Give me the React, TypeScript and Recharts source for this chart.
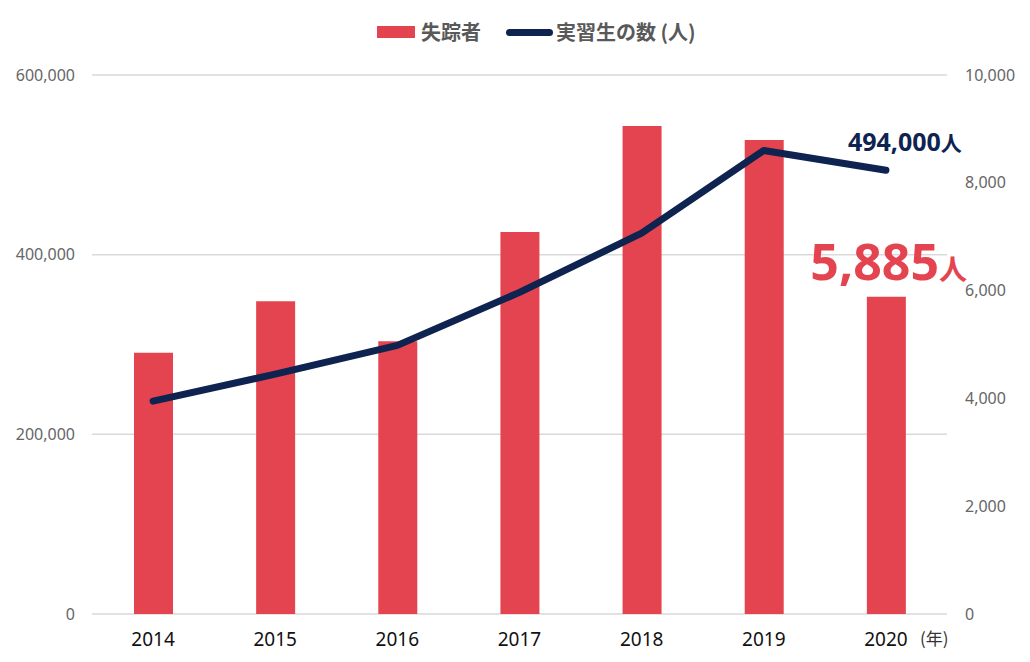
import React from "react";
import {
  ComposedChart,
  Bar,
  Line,
  XAxis,
  YAxis,
  CartesianGrid,
  Legend,
} from "recharts";

const years = ["2014", "2015", "2016", "2017", "2018", "2019", "2020"];
const missing = [4847, 5803, 5058, 7089, 9052, 8796, 5885];
const trainees = [237000, 267000, 299000, 358000, 424000, 516000, 494000];
const leftTicks = [0, 200000, 400000, 600000];
const rightTicks = [0, 2000, 4000, 6000, 8000, 10000];

const RED = "#E4444F";
const NAVY = "#0E2350";
const FONT = "'Noto Sans', 'Noto Sans CJK JP', sans-serif";
const CJK = "'Noto Sans CJK JP', 'Noto Sans', sans-serif";

const data = years.map((y, i) => ({
  year: y,
  missing: missing[i],
  trainees: trainees[i],
}));

const fmt = (v: number) => v.toLocaleString("en-US");

const XTick = (props: any) => {
  const { x, y, payload } = props;
  const last = payload.value === years[years.length - 1];
  return (
    <g>
      <text
        x={x}
        y={y}
        dy={32}
        textAnchor="middle"
        fill="#111"
        fontSize={19}
        fontFamily={FONT}
      >
        {payload.value}
      </text>
      {last && (
        <text
          x={x + 34}
          y={y}
          dy={31}
          textAnchor="start"
          fill="#333"
          fontSize={17}
          fontFamily={CJK}
        >
          (年)
        </text>
      )}
    </g>
  );
};

const LineLabel = (props: any) => {
  const { x, y, index } = props;
  if (index !== years.length - 1) return null;
  return (
    <text x={x - 38} y={y - 19} fill={NAVY} fontFamily={FONT} fontWeight={700}>
      <tspan fontSize={25}>{fmt(trainees[index])}</tspan>
      <tspan fontSize={21} fontFamily={CJK}>人</tspan>
    </text>
  );
};

const BarLabel = (props: any) => {
  const { x, y, width, index } = props;
  if (index !== years.length - 1) return null;
  const cx = x + width / 2;
  return (
    <text x={cx - 76} y={y - 17} fill={RED} fontFamily={FONT} fontWeight={700}>
      <tspan fontSize={50}>{fmt(missing[index])}</tspan>
      <tspan fontSize={28} fontFamily={CJK}>人</tspan>
    </text>
  );
};

const LegendContent = () => (
  <div
    style={{
      position: "relative",
      width: 1030,
      height: 30,
      fontFamily: CJK,
      fontSize: 20,
      fontWeight: 600,
      color: "#595959",
    }}
  >
    <div
      style={{
        position: "absolute",
        left: 377,
        top: 9,
        width: 38,
        height: 12,
        background: RED,
      }}
    />
    <span style={{ position: "absolute", left: 421, top: 0, lineHeight: "30px" }}>
      失踪者
    </span>
    <div
      style={{
        position: "absolute",
        left: 506,
        top: 12,
        width: 47,
        height: 7,
        borderRadius: 4,
        background: NAVY,
      }}
    />
    <span style={{ position: "absolute", left: 556, top: 0, lineHeight: "30px" }}>
      実習生の数 (人)
    </span>
  </div>
);

export default function App() {
  return (
    <div style={{ position: "absolute", left: 0, top: 0, width: 1030, height: 662 }}>
      <ComposedChart
        width={1030}
        height={662}
        data={data}
        margin={{ top: 45, right: 0, bottom: 0, left: 0 }}
      >
        <CartesianGrid
          yAxisId="left"
          vertical={false}
          stroke="#D9D9D9"
          strokeWidth={1.5}
        />
        <XAxis
          dataKey="year"
          height={48}
          axisLine={false}
          tickLine={false}
          tickSize={0}
          tickMargin={0}
          tick={<XTick />}
          interval={0}
        />
        <YAxis
          yAxisId="left"
          orientation="left"
          width={92}
          domain={[0, 600000]}
          ticks={leftTicks}
          axisLine={false}
          tickLine={false}
          tickSize={0}
          tickMargin={17}
          tickFormatter={fmt}
          tick={{ fill: "#666", fontSize: 16, fontFamily: FONT }}
        />
        <YAxis
          yAxisId="right"
          orientation="right"
          width={83}
          domain={[0, 10000]}
          ticks={rightTicks}
          axisLine={false}
          tickLine={false}
          tickSize={0}
          tickMargin={18}
          tickFormatter={fmt}
          tick={{ fill: "#666", fontSize: 16, fontFamily: FONT }}
        />
        <Legend
          verticalAlign="top"
          height={30}
          content={<LegendContent />}
          wrapperStyle={{ top: 17, left: 0, width: 1030 }}
        />
        <Bar
          yAxisId="right"
          dataKey="missing"
          name="失踪者"
          fill={RED}
          barSize={39}
          isAnimationActive={false}
          label={<BarLabel />}
        />
        <Line
          yAxisId="left"
          dataKey="trainees"
          name="実習生の数(人)"
          type="linear"
          stroke={NAVY}
          strokeWidth={7}
          strokeLinecap="round"
          strokeLinejoin="round"
          dot={false}
          activeDot={false}
          isAnimationActive={false}
          label={<LineLabel />}
        />
      </ComposedChart>
    </div>
  );
}
